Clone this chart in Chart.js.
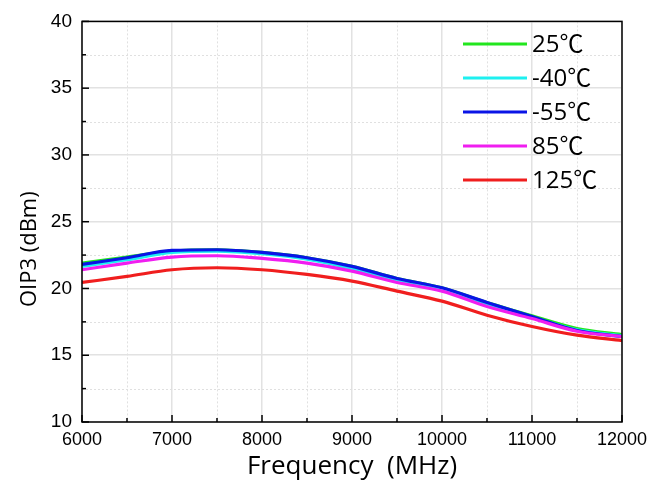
<!DOCTYPE html>
<html lang="en">
<head>
    <meta charset="UTF-8">
    <title>OIP3 vs Frequency</title>
    <script src="https://cdn.jsdelivr.net/npm/chart.js"></script>
    <style>
        html, body { margin: 0; padding: 0; background: #fff; }
        #wrap { width: 665px; height: 484px; }
    </style>
</head>
<body>
    <div id="wrap"><canvas id="oip3Chart" width="665" height="484"></canvas></div>

    <script>
        // Frequency points (MHz)
        const freqs = [6000, 6500, 7000, 7500, 8000, 8500, 9000, 9500, 10000, 10500, 11000, 11500, 12000];

        // OIP3 (dBm) per temperature
        const oip3_25  = [21.9, 22.35, 22.8, 22.9, 22.7, 22.3, 21.65, 20.75, 20.05, 18.95, 17.95, 17.0, 16.55];
        const oip3_m40 = [21.65, 22.15, 22.7, 22.8, 22.6, 22.2, 21.5, 20.65, 19.95, 18.85, 17.85, 16.9, 16.45];
        const oip3_m55 = [21.8, 22.3, 22.85, 22.9, 22.7, 22.3, 21.65, 20.75, 20.05, 18.95, 17.9, 16.85, 16.4];
        const oip3_85  = [21.4, 21.9, 22.35, 22.45, 22.25, 21.9, 21.3, 20.45, 19.8, 18.65, 17.75, 16.8, 16.4];
        const oip3_125 = [20.45, 20.9, 21.4, 21.55, 21.4, 21.05, 20.55, 19.8, 19.05, 18.0, 17.15, 16.5, 16.1];

        const seriesLabels = ['25\u2103', '-40\u2103', '-55\u2103', '85\u2103', '125\u2103'];
        const seriesColors = ['#22e61e', '#1ef0f0', '#0a14e6', '#f01ef0', '#f01e1e'];
        const seriesData = [oip3_25, oip3_m40, oip3_m55, oip3_85, oip3_125];

        function toPoints(vals) {
            return freqs.map((f, i) => ({ x: f, y: vals[i] }));
        }

        // minor dotted grid, inward ticks and frame
        const framePlugin = {
            id: 'frame',
            beforeDatasetsDraw(chart) {
                const { ctx, chartArea: a, scales: { x, y } } = chart;
                ctx.save();
                ctx.strokeStyle = '#e0e0e0';
                ctx.lineWidth = 1;
                ctx.setLineDash([2, 2]);
                for (let f = 6500; f < 12000; f += 1000) {
                    const px = Math.round(x.getPixelForValue(f)) + 0.5;
                    ctx.beginPath(); ctx.moveTo(px, a.top); ctx.lineTo(px, a.bottom); ctx.stroke();
                }
                for (let v = 12.5; v < 40; v += 5) {
                    const py = Math.round(y.getPixelForValue(v)) + 0.5;
                    ctx.beginPath(); ctx.moveTo(a.left, py); ctx.lineTo(a.right, py); ctx.stroke();
                }
                ctx.restore();
            },
            afterDraw(chart) {
                const { ctx, chartArea: a, scales: { x, y } } = chart;
                ctx.save();
                ctx.strokeStyle = '#000';
                ctx.lineWidth = 1.5;
                for (let f = 6000; f <= 12000; f += 500) {
                    const px = x.getPixelForValue(f);
                    const len = f % 1000 === 0 ? 7 : 4;
                    ctx.beginPath(); ctx.moveTo(px, a.bottom); ctx.lineTo(px, a.bottom - len); ctx.stroke();
                }
                for (let v = 10; v <= 40; v += 2.5) {
                    const py = y.getPixelForValue(v);
                    const len = v % 5 === 0 ? 7 : 4;
                    ctx.beginPath(); ctx.moveTo(a.left, py); ctx.lineTo(a.left + len, py); ctx.stroke();
                }
                ctx.strokeRect(a.left, a.top, a.right - a.left, a.bottom - a.top);

                // legend inside the plot, top right
                ctx.font = '24px "Open Sans", "Noto Sans CJK SC", sans-serif';
                ctx.textBaseline = 'middle';
                ctx.fillStyle = '#000';
                seriesLabels.forEach((lab, i) => {
                    const ly = 44 + i * 34;
                    ctx.strokeStyle = seriesColors[i];
                    ctx.lineWidth = 3;
                    ctx.beginPath(); ctx.moveTo(463, ly); ctx.lineTo(527, ly); ctx.stroke();
                    ctx.fillText(lab, 532, ly + 1);
                });
                ctx.restore();
            }
        };

        const ctx = document.getElementById('oip3Chart').getContext('2d');

        new Chart(ctx, {
            type: 'line',
            data: {
                datasets: seriesData.map((vals, i) => ({
                    label: seriesLabels[i],
                    data: toPoints(vals),
                    borderColor: seriesColors[i],
                    backgroundColor: seriesColors[i],
                    borderWidth: 3.2,
                    pointRadius: 0,
                    cubicInterpolationMode: 'monotone',
                    fill: false,
                    order: [5, 4, 3, 2, 1][i]
                }))
            },
            options: {
                responsive: false,
                animation: false,
                layout: { padding: { top: 14, right: 43, left: 0, bottom: 0 } },
                plugins: {
                    legend: { display: false },
                    tooltip: { enabled: false }
                },
                scales: {
                    x: {
                        type: 'linear',
                        min: 6000,
                        max: 12000,
                        afterFit(scale) { scale.height = 62; },
                        ticks: {
                            stepSize: 1000,
                            padding: 7,
                            maxRotation: 0,
                            color: '#000',
                            font: { family: '"Liberation Sans", Arial, sans-serif', size: 18 },
                            callback: v => String(v)
                        },
                        grid: { color: '#e2e2e2', lineWidth: 1.5, drawTicks: false },
                        border: { display: false },
                        title: {
                            display: true,
                            text: 'Frequency  (MHz)',
                            color: '#000',
                            font: { family: '"Open Sans", "Noto Sans", sans-serif', size: 26 },
                            padding: { top: 0, bottom: 2 }
                        }
                    },
                    y: {
                        min: 10,
                        max: 40,
                        afterFit(scale) { scale.width = 82; },
                        ticks: {
                            stepSize: 5,
                            padding: 10,
                            color: '#000',
                            font: { family: '"Liberation Sans", Arial, sans-serif', size: 19 }
                        },
                        grid: { color: '#e2e2e2', lineWidth: 1.5, drawTicks: false },
                        border: { display: false },
                        title: {
                            display: true,
                            text: 'OIP3 (dBm)\u2002\u2002\u2002\u2002\u2002',
                            color: '#000',
                            font: { family: '"Open Sans", "Noto Sans", sans-serif', size: 22 },
                            padding: { top: 17, bottom: 0 }
                        }
                    }
                }
            },
            plugins: [framePlugin]
        });
    </script>
</body>
</html>
